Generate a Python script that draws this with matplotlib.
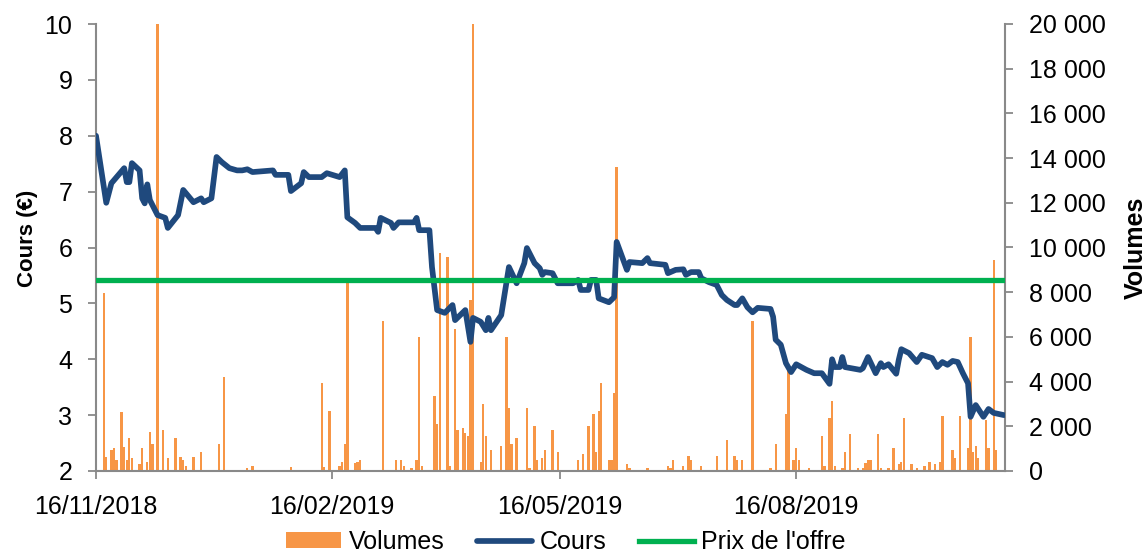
import matplotlib
matplotlib.use("Agg")
import matplotlib.pyplot as plt
import matplotlib.dates as mdates
from matplotlib.ticker import FuncFormatter, MultipleLocator
import pandas as pd

plt.rcParams['font.family'] = ['Liberation Sans', 'DejaVu Sans']

# ---------------- data ----------------
price_dates = [
    "2018-11-16", "2018-11-20", "2018-11-22", "2018-11-27", "2018-11-28", "2018-11-29", "2018-11-30", "2018-12-03", "2018-12-04", "2018-12-05",
    "2018-12-06", "2018-12-07", "2018-12-10", "2018-12-13", "2018-12-14", "2018-12-18", "2018-12-20", "2018-12-24", "2018-12-27", "2018-12-28",
    "2018-12-31", "2019-01-02", "2019-01-04", "2019-01-07", "2019-01-10", "2019-01-12", "2019-01-14", "2019-01-16", "2019-01-24", "2019-01-25",
    "2019-01-30", "2019-01-31", "2019-02-04", "2019-02-05", "2019-02-07", "2019-02-12", "2019-02-14", "2019-02-19", "2019-02-21", "2019-02-22",
    "2019-02-25", "2019-02-27", "2019-03-05", "2019-03-06", "2019-03-07", "2019-03-11", "2019-03-12", "2019-03-14", "2019-03-20", "2019-03-21",
    "2019-03-22", "2019-03-26", "2019-03-27", "2019-03-29", "2019-04-01", "2019-04-04", "2019-04-05", "2019-04-09", "2019-04-11", "2019-04-12",
    "2019-04-15", "2019-04-17", "2019-04-18", "2019-04-19", "2019-04-23", "2019-04-26", "2019-04-29", "2019-05-02", "2019-05-03", "2019-05-06",
    "2019-05-08", "2019-05-09", "2019-05-10", "2019-05-13", "2019-05-15", "2019-05-21", "2019-05-23", "2019-05-24", "2019-05-27", "2019-05-28",
    "2019-05-30", "2019-05-31", "2019-06-04", "2019-06-06", "2019-06-07", "2019-06-11", "2019-06-12", "2019-06-17", "2019-06-19", "2019-06-20",
    "2019-06-26", "2019-06-27", "2019-06-30", "2019-07-03", "2019-07-04", "2019-07-06", "2019-07-09", "2019-07-10", "2019-07-13", "2019-07-16",
    "2019-07-18", "2019-07-20", "2019-07-23", "2019-07-24", "2019-07-26", "2019-07-28", "2019-07-30", "2019-08-01", "2019-08-06", "2019-08-07",
    "2019-08-08", "2019-08-10", "2019-08-12", "2019-08-14", "2019-08-16", "2019-08-20", "2019-08-23", "2019-08-26", "2019-08-29", "2019-08-30",
    "2019-08-31", "2019-09-02", "2019-09-03", "2019-09-04", "2019-09-10", "2019-09-11", "2019-09-13", "2019-09-16", "2019-09-18", "2019-09-19",
    "2019-09-21", "2019-09-24", "2019-09-25", "2019-09-26", "2019-09-29", "2019-10-02", "2019-10-04", "2019-10-08", "2019-10-10", "2019-10-12",
    "2019-10-14", "2019-10-16", "2019-10-18", "2019-10-20", "2019-10-22", "2019-10-23", "2019-10-25", "2019-10-28", "2019-10-30", "2019-11-01",
    "2019-11-05",
]
price_values = [
    8.00, 6.80, 7.15, 7.42, 7.17, 7.17, 7.51, 7.38, 6.88, 6.79,
    7.13, 6.85, 6.58, 6.53, 6.35, 6.58, 7.03, 6.81, 6.88, 6.81,
    6.88, 7.62, 7.53, 7.42, 7.38, 7.38, 7.40, 7.35, 7.38, 7.30,
    7.30, 7.01, 7.15, 7.35, 7.26, 7.26, 7.33, 7.26, 7.38, 6.54,
    6.44, 6.35, 6.35, 6.28, 6.53, 6.44, 6.35, 6.45, 6.45, 6.53,
    6.31, 6.31, 5.65, 4.88, 4.83, 4.97, 4.70, 4.88, 4.31, 4.74,
    4.67, 4.52, 4.74, 4.52, 4.79, 5.65, 5.36, 5.72, 5.99, 5.72,
    5.63, 5.51, 5.56, 5.54, 5.36, 5.36, 5.42, 5.24, 5.24, 5.42,
    5.42, 5.09, 5.02, 5.11, 6.10, 5.60, 5.74, 5.72, 5.81, 5.72,
    5.69, 5.54, 5.60, 5.61, 5.51, 5.56, 5.56, 5.45, 5.38, 5.33,
    5.15, 5.06, 4.97, 4.97, 5.09, 4.93, 4.84, 4.92, 4.90, 4.76,
    4.35, 4.26, 3.93, 3.77, 3.91, 3.81, 3.75, 3.75, 3.56, 4.00,
    3.86, 3.86, 4.04, 3.86, 3.81, 3.84, 4.04, 3.75, 3.93, 3.86,
    3.91, 3.74, 3.99, 4.18, 4.11, 3.95, 4.08, 4.02, 3.86, 3.95,
    3.90, 3.97, 3.95, 3.75, 3.57, 2.97, 3.18, 2.97, 3.11, 3.04,
    3.00,
]
volume_dates = [
    "2018-11-16", "2018-11-19", "2018-11-20", "2018-11-22", "2018-11-23", "2018-11-24", "2018-11-26", "2018-11-27", "2018-11-28", "2018-11-29",
    "2018-11-30", "2018-12-03", "2018-12-04", "2018-12-06", "2018-12-07", "2018-12-08", "2018-12-10", "2018-12-12", "2018-12-14", "2018-12-17",
    "2018-12-19", "2018-12-20", "2018-12-21", "2018-12-24", "2018-12-27", "2019-01-03", "2019-01-05", "2019-01-14", "2019-01-16", "2019-01-31",
    "2019-02-12", "2019-02-13", "2019-02-15", "2019-02-19", "2019-02-20", "2019-02-21", "2019-02-22", "2019-02-25", "2019-02-26", "2019-02-27",
    "2019-03-08", "2019-03-13", "2019-03-15", "2019-03-16", "2019-03-19", "2019-03-21", "2019-03-22", "2019-03-23", "2019-03-28", "2019-03-29",
    "2019-03-30", "2019-04-02", "2019-04-03", "2019-04-05", "2019-04-06", "2019-04-08", "2019-04-09", "2019-04-10", "2019-04-11", "2019-04-12",
    "2019-04-15", "2019-04-16", "2019-04-17", "2019-04-19", "2019-04-23", "2019-04-25", "2019-04-26", "2019-04-27", "2019-04-29", "2019-05-03",
    "2019-05-04", "2019-05-06", "2019-05-07", "2019-05-09", "2019-05-10", "2019-05-13", "2019-05-15", "2019-05-23", "2019-05-25", "2019-05-27",
    "2019-05-29", "2019-05-30", "2019-05-31", "2019-06-01", "2019-06-04", "2019-06-05", "2019-06-06", "2019-06-07", "2019-06-11", "2019-06-12",
    "2019-06-19", "2019-06-27", "2019-06-28", "2019-06-29", "2019-07-03", "2019-07-05", "2019-07-06", "2019-07-10", "2019-07-16", "2019-07-20",
    "2019-07-23", "2019-07-24", "2019-07-26", "2019-07-30", "2019-08-06", "2019-08-08", "2019-08-12", "2019-08-13", "2019-08-15", "2019-08-16",
    "2019-08-17", "2019-08-21", "2019-08-26", "2019-08-27", "2019-08-29", "2019-08-30", "2019-08-31", "2019-09-03", "2019-09-04", "2019-09-06",
    "2019-09-09", "2019-09-11", "2019-09-12", "2019-09-13", "2019-09-14", "2019-09-17", "2019-09-18", "2019-09-21", "2019-09-23", "2019-09-25",
    "2019-09-26", "2019-09-27", "2019-09-30", "2019-10-02", "2019-10-05", "2019-10-07", "2019-10-09", "2019-10-11", "2019-10-12", "2019-10-16",
    "2019-10-17", "2019-10-19", "2019-10-22", "2019-10-23", "2019-10-24", "2019-10-25", "2019-10-26", "2019-10-29", "2019-10-30", "2019-11-01",
    "2019-11-02",
]
volume_values = [
    100, 7960, 630, 940, 1030, 490, 2640, 1070, 490, 1480,
    580, 310, 1030, 400, 1750, 1210, 21000, 1840, 580, 1480,
    630, 490, 220, 630, 850, 1210, 4200, 130, 220, 180,
    3940, 180, 2680, 220, 400, 1210, 8400, 360, 400, 490,
    6710, 490, 490, 220, 130, 490, 6000, 220, 3360, 2100,
    9750, 9570, 220, 6350, 1840, 1920, 1700, 1570, 7650, 21000,
    400, 3000, 1570, 940, 1120, 6000, 2820, 1210, 1480, 2820,
    130, 2010, 490, 580, 940, 1840, 850, 490, 760, 2010,
    2550, 850, 2680, 3940, 490, 490, 3490, 13600, 310, 130,
    130, 220, 130, 490, 220, 670, 490, 220, 670, 1390,
    670, 490, 490, 6710, 130, 1210, 2550, 4650, 490, 1030,
    490, 130, 1570, 220, 2370, 3130, 220, 130, 850, 1660,
    130, 130, 360, 490, 490, 1660, 130, 130, 1030, 310,
    400, 2370, 310, 130, 220, 400, 310, 400, 2460, 940,
    580, 2460, 1030, 6000, 850, 1120, 580, 2280, 1030, 9440,
    940,
]
offer_price = 5.42
tick_dates = ["2018-11-16", "2019-02-16", "2019-05-16", "2019-08-16"]
series_names = ["Volumes", "Cours", "Prix de l'offre"]

# ---------------- styling ----------------
ORANGE = "#F79646"
BLUE = "#1F497D"
GREEN = "#00B050"
GREY = "#898989"
FS = 18

pdates = pd.to_datetime(price_dates)
vdates = pd.to_datetime(volume_dates)
tdates = pd.to_datetime(tick_dates)

fig = plt.figure(figsize=(11.46, 5.56), dpi=100)
W, H = 1146, 556
ax = fig.add_axes([96 / W, 1 - 471 / H, (1005 - 96) / W, (471 - 24) / H])
ax2 = ax.twinx()

# bars (volumes) on the secondary axis, drawn below the lines
bars = ax2.bar(vdates, volume_values, width=0.9, color=ORANGE, linewidth=0,
               label=series_names[0])
ax2.set_ylim(0, 20000)

line_cours, = ax.plot(pdates, price_values, color=BLUE, lw=4.1,
                      solid_joinstyle="round", solid_capstyle="round",
                      label=series_names[1], zorder=3)
line_offer, = ax.plot([pdates[0], pdates[-1] + pd.Timedelta(hours=12)],
                      [offer_price, offer_price], color=GREEN, lw=3.8,
                      label=series_names[2], zorder=4)

ax.set_zorder(ax2.get_zorder() + 1)
ax.patch.set_visible(False)

ax.set_ylim(2, 10)
ax.yaxis.set_major_locator(MultipleLocator(1))
ax.set_xlim(pdates[0], pdates[-1] + pd.Timedelta(hours=10))
ax.set_xticks(tdates)
ax.xaxis.set_major_formatter(mdates.DateFormatter("%d/%m/%Y"))
ax2.yaxis.set_major_locator(MultipleLocator(2000))
ax2.yaxis.set_major_formatter(FuncFormatter(lambda v, p: f"{int(v):,}".replace(",", " ")))

for a in (ax, ax2):
    for s in a.spines.values():
        s.set_color(GREY)
        s.set_linewidth(1.5)
    a.spines["top"].set_visible(False)
ax.spines["right"].set_visible(False)
ax2.spines["left"].set_visible(False)
ax2.spines["bottom"].set_visible(False)

ax.tick_params(axis="y", direction="out", length=6, width=1.3, color=GREY,
               labelsize=FS, pad=11)
ax.tick_params(axis="x", direction="out", length=6, width=1.3, color=GREY,
               labelsize=FS, pad=11)
ax2.tick_params(axis="y", direction="out", length=6, width=1.3, color=GREY,
                labelsize=FS, pad=11)

ax.set_ylabel("Cours (€)", fontsize=16, fontweight="bold")
ax.yaxis.set_label_coords(-0.064, 0.52)
ax2.set_ylabel("Volumes", fontsize=18, fontweight="bold", rotation=90)
ax2.yaxis.set_label_coords(1.131, 0.50)

fig.legend(handles=[bars, line_cours, line_offer], labels=series_names,
           loc="center", bbox_to_anchor=(0.494, 0.025), ncol=3, frameon=False,
           fontsize=FS, handlelength=2.2, handleheight=0.6, handletextpad=0.3,
           columnspacing=1.3, borderaxespad=0, borderpad=0)

fig.savefig("out.png", dpi=100)
